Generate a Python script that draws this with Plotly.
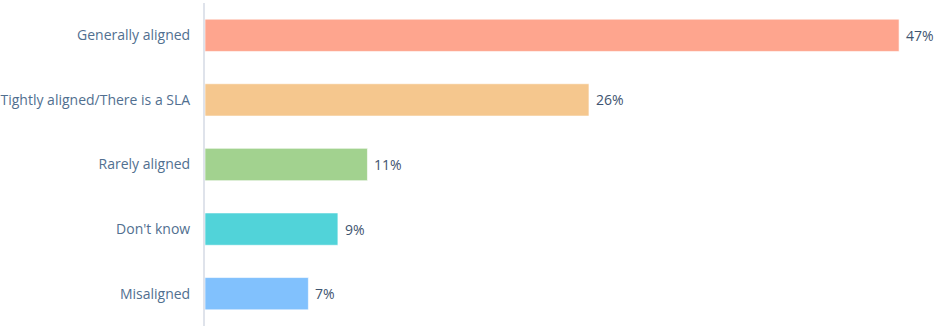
import plotly.graph_objects as go

categories = ["Generally aligned", "Tightly aligned/There is a SLA", "Rarely aligned", "Don't know", "Misaligned"]
values = [47, 26, 11, 9, 7]
colors = ["#fea58e", "#f5c78e", "#a2d28f", "#51d3d9", "#81c1fd"]

fig = go.Figure(go.Bar(
    y=categories,
    x=values,
    orientation="h",
    marker=dict(color=colors, line=dict(color="rgba(255,255,255,0.6)", width=1)),
    width=0.5,
    cliponaxis=False,
))

for c, v in zip(categories, values):
    fig.add_annotation(
        x=v, y=c, text=f"{v}%", showarrow=False,
        xanchor="left", xshift=5,
        font=dict(family="Open Sans, sans-serif", size=14, color="#3e5470"),
    )

fig.update_layout(
    width=940, height=329,
    margin=dict(l=205, r=0, t=3, b=3),
    plot_bgcolor="white", paper_bgcolor="white",
    showlegend=False,
    font=dict(family="Open Sans, sans-serif", size=14, color="#516f90"),
)
fig.update_xaxes(range=[0, 49.77], visible=False, showgrid=False)
fig.update_yaxes(
    autorange="reversed",
    showline=True, linecolor="#dfe3eb", linewidth=2,
    ticks="outside", ticklen=10, tickcolor="rgba(0,0,0,0)",
    showgrid=False,
    tickfont=dict(family="Open Sans, sans-serif", size=14, color="#516f90"),
)

fig.write_html("out.html")
